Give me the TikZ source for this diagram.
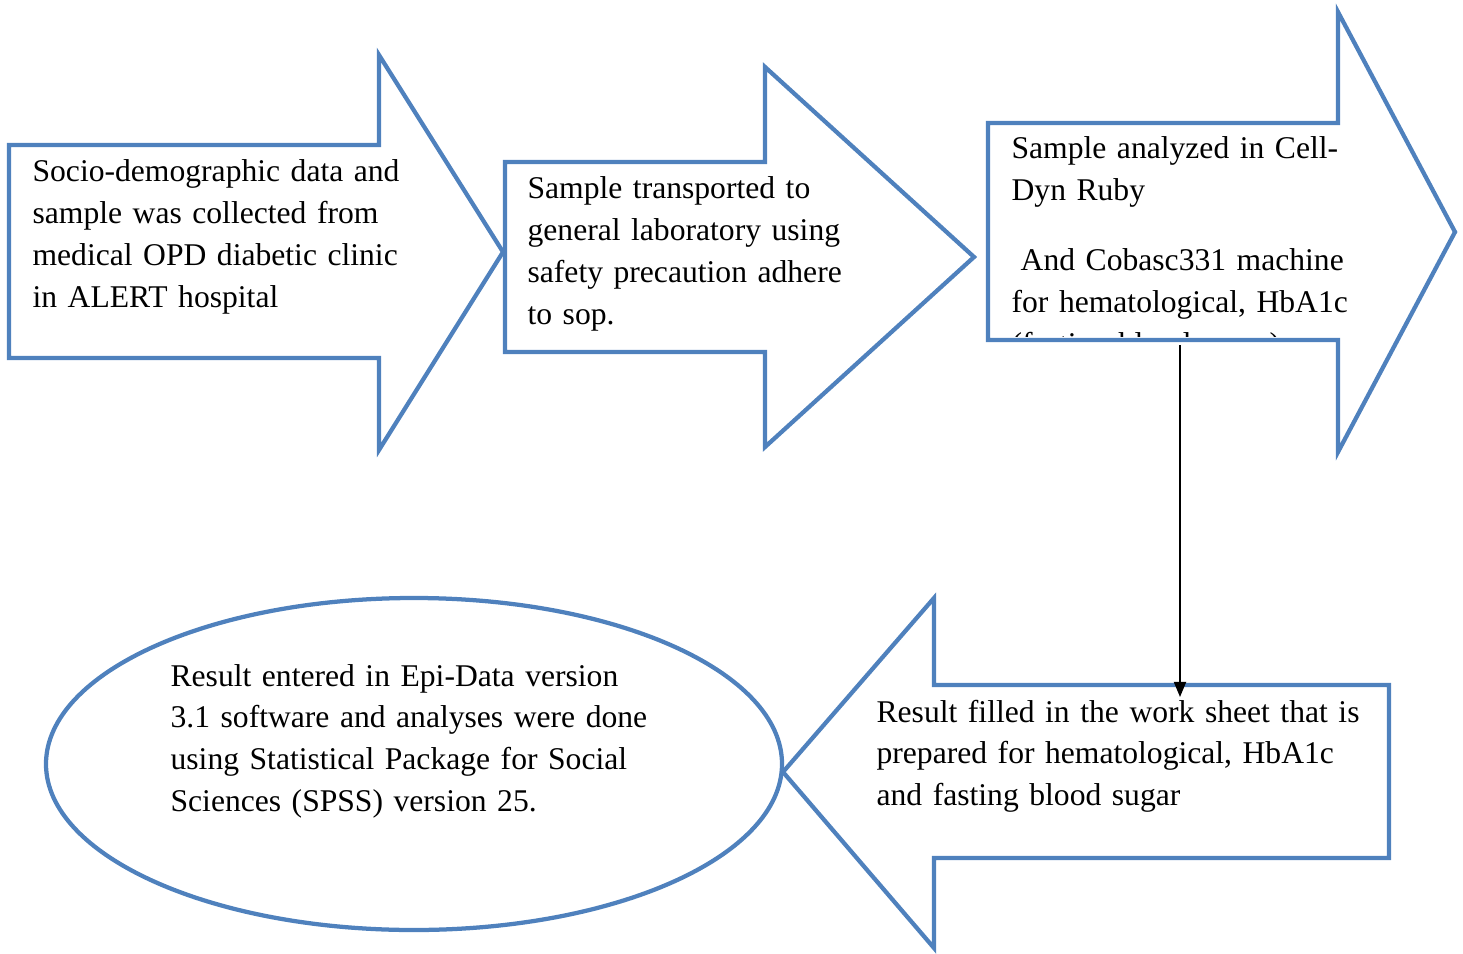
\documentclass[tikz,border=0pt]{standalone}
\usepackage{fontspec}
\setmainfont{Liberation Serif}
\usetikzlibrary{arrows.meta}
\definecolor{wordblue}{HTML}{4F81BD}

\begin{document}
\begin{tikzpicture}[x=0.329pt, y=-0.329pt,
  outline/.style={draw=wordblue, line width=1.4pt, line join=miter},
  txt/.style={anchor=base west, inner sep=0pt, text width=175pt, align=left,
    font=\fontsize{10.4}{13.8}\selectfont}]
  \useasboundingbox (0,0) rectangle (1463,953);
  % block arrows
  \draw[outline] (9,145) -- (379,145) -- (379,55) -- (503,252) -- (379,450) -- (379,358) -- (9,358) -- cycle;
  \draw[outline] (505,162) -- (765,162) -- (765,67) -- (974,257) -- (765,447) -- (765,352) -- (505,352) -- cycle;
  \draw[outline] (988,123) -- (1338,123) -- (1338,12) -- (1455,232) -- (1338,452) -- (1338,340) -- (988,340) -- cycle;
  \draw[outline] (1389,685) -- (934,685) -- (934,598) -- (783,772) -- (934,948) -- (934,858) -- (1389,858) -- cycle;
  \draw[outline] (414,764) ellipse [x radius=368, y radius=166];

  \node[txt] (collect) at (32,182) {Socio-demographic data and\\ sample was collected from\\ medical OPD diabetic clinic\\ in ALERT hospital};
  \node[txt] (transport) at (527,199) {Sample transported to\\ general laboratory using\\ safety precaution adhere\\ to sop.};
  \begin{scope}
    \clip (990,125) rectangle (1400,336);
    \node[txt] (analyzed) at (1011,159) {Sample analyzed in Cell-\\ Dyn Ruby\\[9.2pt] \hspace{3pt}And Cobasc331 machine\\ for hematological, HbA1c\\ (fasting blood sugar)};
  \end{scope}
  \node[txt] (filled) at (876,722) {Result filled in the work sheet that is\\ prepared for hematological, HbA1c\\ and fasting blood sugar};
  \node[txt] (entered) at (170,686) {Result entered in Epi-Data version\\ 3.1 software and analyses were done\\ using Statistical Package for Social\\ Sciences (SPSS) version 25.};

  % connector
  \coordinate (from) at (1180,345);
  \coordinate (to) at (1180,697);
  \draw[-{Triangle[width=4pt,length=5pt]}, line width=0.6pt] (from) -- (to);
\end{tikzpicture}
\end{document}
